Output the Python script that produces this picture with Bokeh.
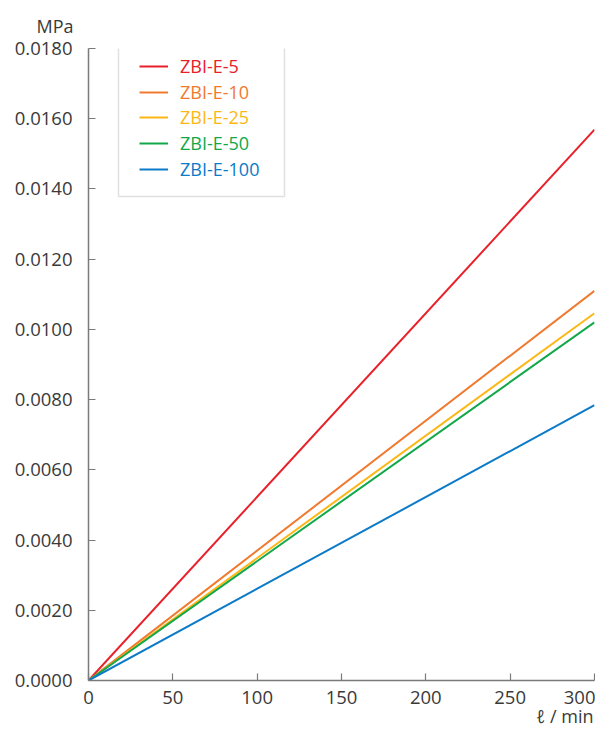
from bokeh.plotting import figure
from bokeh.models import (Legend, LegendItem, FixedTicker, NumeralTickFormatter,
                          Title, BoxAnnotation, ColumnDataSource, Range1d)
from bokeh.embed import file_html
from bokeh.resources import INLINE

# ---- data ----
series_names = ["ZBI-E-5", "ZBI-E-10", "ZBI-E-25", "ZBI-E-50", "ZBI-E-100"]
series_colors = ["#E8202A", "#F0792E", "#FDB714", "#12A84A", "#0B7AC8"]
flow = [0, 300]                      # ℓ / min
p_e5 = [0.0, 0.01569]                # MPa
p_e10 = [0.0, 0.01110]
p_e25 = [0.0, 0.01046]
p_e50 = [0.0, 0.01020]
p_e100 = [0.0, 0.00784]
series_values = [p_e5, p_e10, p_e25, p_e50, p_e100]

x_ticks = [0, 50, 100, 150, 200, 250, 300]
y_ticks = [0.0, 0.002, 0.004, 0.006, 0.008, 0.010, 0.012, 0.014, 0.016, 0.018]
x_label = "ℓ / min"
y_label = "MPa"

FONT = "Open Sans"
TXT = "#3a3a3a"
AX = "#7a7a7a"

p = figure(width=595, height=746,
           x_range=Range1d(x_ticks[0], x_ticks[-1]),
           y_range=Range1d(y_ticks[0], y_ticks[-1]),
           output_backend="svg", toolbar_location=None,
           min_border_left=88, min_border_right=1,
           min_border_top=44, min_border_bottom=66)
p.grid.visible = False
p.outline_line_color = None
p.background_fill_color = "white"
p.border_fill_color = "white"

for ax in (p.xaxis[0], p.yaxis[0]):
    ax.axis_line_color = AX
    ax.axis_line_width = 1.5
    ax.major_tick_line_color = AX
    ax.major_tick_line_width = 1.2
    ax.major_tick_in = 7
    ax.major_tick_out = 0
    ax.minor_tick_line_color = None
    ax.major_label_text_font = FONT
    ax.major_label_text_font_size = "18.5px"
    ax.major_label_text_color = TXT

p.xaxis.ticker = FixedTicker(ticks=x_ticks)
p.xaxis.major_label_standoff = 10
p.yaxis.ticker = FixedTicker(ticks=y_ticks)
p.yaxis.formatter = NumeralTickFormatter(format="0.0000")
p.yaxis.major_label_standoff = 16

renderers = []
for name, color, vals in zip(series_names, series_colors, series_values):
    src = ColumnDataSource(dict(x=flow, y=vals))
    r = p.line("x", "y", source=src, line_color=color, line_width=2)
    renderers.append(r)

# legend frame
box = BoxAnnotation(left=30, right=196, bottom=484, top=636,
                    left_units="screen", right_units="screen",
                    top_units="screen", bottom_units="screen",
                    fill_color="white", fill_alpha=1.0,
                    line_color="#9a9a9a", line_width=1.5)
p.add_layout(box)

# one legend per series so every label can take its own colour
for i, (name, color, r) in enumerate(zip(series_names, series_colors, renderers)):
    leg = Legend(items=[LegendItem(label=name, renderers=[r])],
                 location=(51, 602 - round(i * 25.7)),
                 padding=0, margin=0, spacing=0,
                 border_line_alpha=0, background_fill_alpha=0,
                 glyph_width=29, glyph_height=22, label_height=22,
                 label_standoff=12,
                 label_text_color=color, label_text_font=FONT,
                 label_text_font_size="18px")
    p.add_layout(leg)

# axis titles
p.add_layout(Title(text=y_label, align="left", offset=-52, standoff=22,
                   text_font=FONT, text_font_size="18px",
                   text_font_style="normal", text_color=TXT), "above")
p.add_layout(Title(text=x_label, align="right", offset=1, standoff=-5,
                   vertical_align="top",
                   text_font=FONT, text_font_size="18px",
                   text_font_style="normal", text_color=TXT), "below")

open("out.html", "w").write(file_html(p, INLINE))
